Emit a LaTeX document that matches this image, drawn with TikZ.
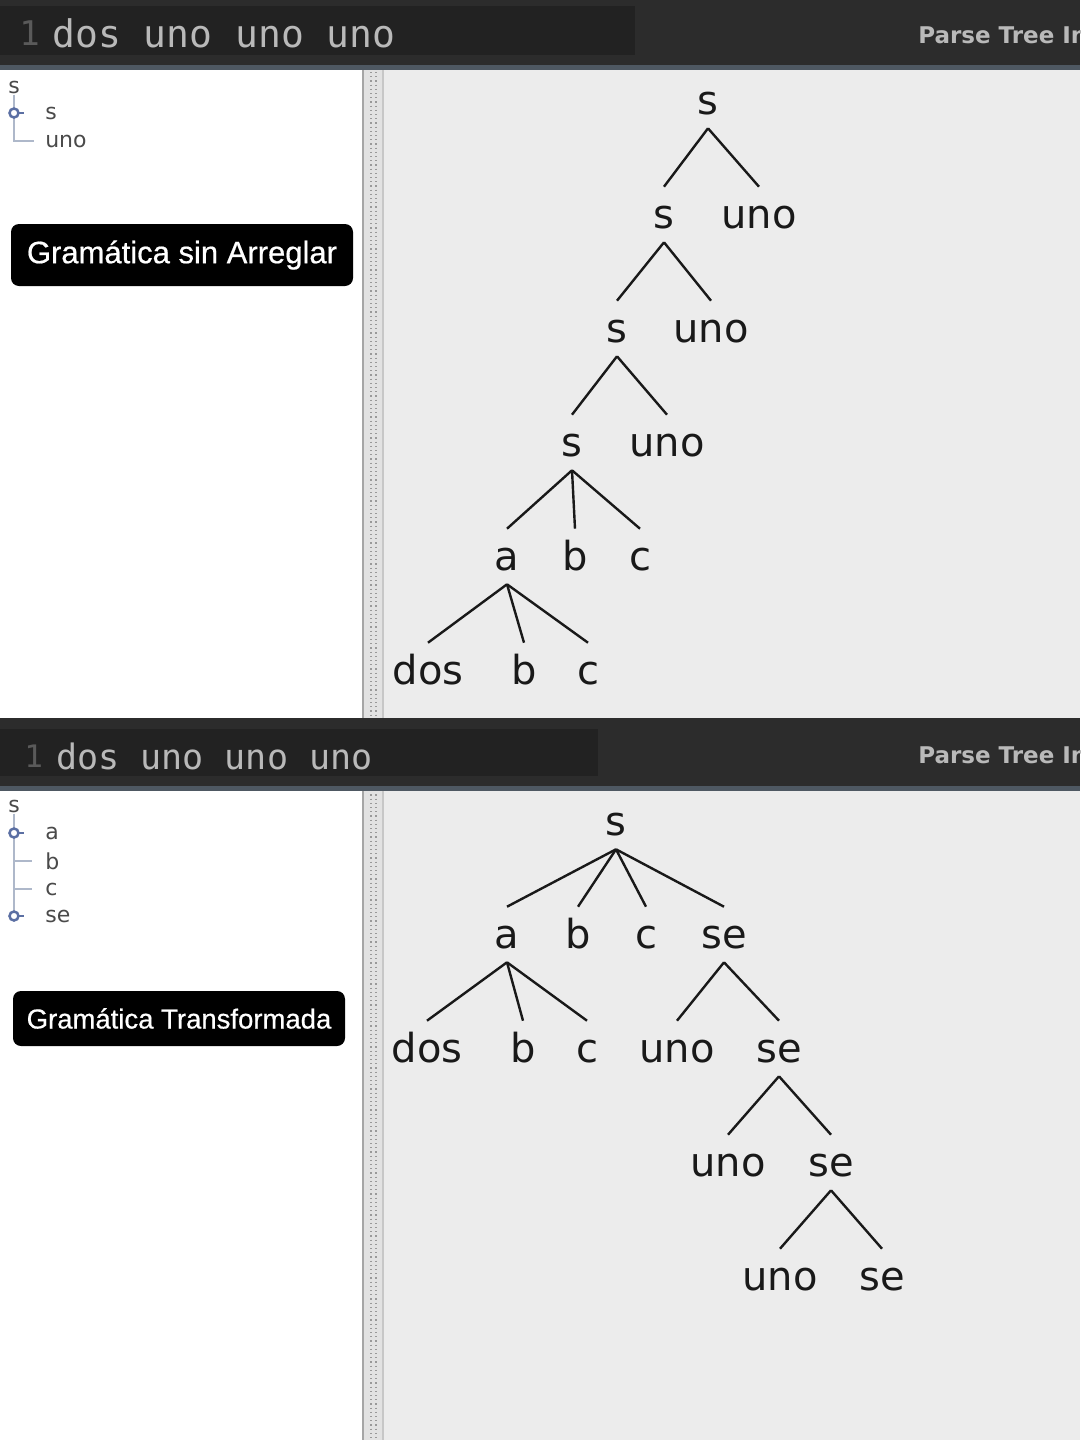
\documentclass[tikz,border=0pt]{standalone}
\usepackage{fontspec}
\usetikzlibrary{positioning}

\newfontfamily\treefont{DejaVu Sans}
\newfontfamily\codefont{DejaVu Sans Mono}
\newfontfamily\tagfont[FakeBold=0.6]{Liberation Sans}

\definecolor{barbg}{HTML}{2C2C2C}
\definecolor{editbg}{HTML}{222222}
\definecolor{barline}{HTML}{4E5862}
\definecolor{codetxt}{HTML}{B9B9B9}
\definecolor{linenum}{HTML}{5A5A5A}
\definecolor{panelbg}{HTML}{ECECEC}
\definecolor{splitbg}{HTML}{E2E2E2}
\definecolor{guide}{HTML}{AEB8CA}
\definecolor{knob}{HTML}{5B6FA3}
\definecolor{listtxt}{HTML}{4A4A4A}

\begin{document}
\begin{tikzpicture}[
    x = 1pt,
    y = -1pt,
    semithick,
    ]

    \tikzstyle{tok}=[
    font = \treefont\fontsize{40}{40}\selectfont,
    text = black!90,
    anchor = base,
    inner sep = 0pt,
    text height = 41.5pt,
    text depth = 13.5pt,
    ]
    \tikzstyle{branch}=[
    draw = black!90,
    line width = 2.4pt,
    ]
    \tikzstyle{item}=[
    font = \treefont\fontsize{22}{22}\selectfont,
    text = listtxt,
    inner sep = 1pt,
    ]
    \tikzstyle{tag}=[
    fill = black,
    rounded corners = 8pt,
    text = white,
    inner sep = 0pt,
    ]
    \tikzstyle{code}=[
    font = \codefont,
    text = codetxt,
    anchor = west,
    inner sep = 0pt,
    ]
    \tikzstyle{title}=[
    font = \treefont\bfseries\fontsize{23}{23}\selectfont,
    text = codetxt,
    anchor = west,
    inner sep = 0pt,
    ]

    \useasboundingbox (0,0) rectangle (1080,1440);
    \clip (0,0) rectangle (1080,1440);

    % panels
    \fill[white] (0,68) rectangle (362,1440);
    \fill[panelbg] (384,68) rectangle (1080,1440);
    \fill[splitbg] (362,68) rectangle (384,1440);
    \draw[black!35, line width=2pt] (363,68) -- (363,1440);
    \draw[black!22, line width=1.5pt] (383,68) -- (383,1440);
    \foreach \dx in {371,376}
    \draw[black!40, line width=1.2pt, dash pattern=on 1.2pt off 3pt] (\dx,72) -- (\dx,1440);

    % top bar
    \fill[barbg] (0,0) rectangle (1080,68);
    \fill[editbg] (0,6) rectangle (635,55);
    \fill[barline] (0,65) rectangle (1080,70);
    \node[code, text=linenum, font=\codefont\fontsize{34}{34}\selectfont] (num1) at (19,33) {1};
    \node[code, font=\codefont\fontsize{38}{38}\selectfont] (src1) at (52,33) {dos uno uno uno};
    \node[title] (pt1) at (918,35) {Parse Tree In};

    % second bar
    \fill[barbg] (0,718) rectangle (1080,790);
    \fill[editbg] (0,729) rectangle (598,776);
    \fill[barline] (0,786) rectangle (1080,791);
    \node[code, text=linenum, font=\codefont\fontsize{31}{31}\selectfont] (num2) at (24,756) {1};
    \node[code, font=\codefont\fontsize{35}{35}\selectfont] (src2) at (56,756) {dos uno uno uno};
    \node[title] (pt2) at (918,755) {Parse Tree In};

    % rule list, first grammar
    \node[item] (ls) at (14,87) {s};
    \node[item, anchor=west] (lss) at (44,113) {s};
    \node[item, anchor=west] (lsu) at (44,141) {uno};
    \draw[guide, line width=1.5pt] (ls.south) |- ([xshift=-10pt]lsu.west);
    \draw[knob, line width=2.5pt] (ls.south |- lss.west) -- ([xshift=-20pt]lss.west);
    \draw[knob, line width=2.5pt, fill=white] (ls.south |- lss.west) circle (4.5pt);

    % rule list, second grammar
    \node[item] (ms) at (14,806) {s};
    \node[item, anchor=west] (ma) at (44,833) {a};
    \node[item, anchor=west] (mb) at (44,861) {b};
    \node[item, anchor=west] (mc) at (44,889) {c};
    \node[item, anchor=west] (mse) at (44,916) {se};
    \draw[guide, line width=1.5pt] (ms.south) -- (ms.south |- mse.west);
    \foreach \n in {mb,mc}
    \draw[guide, line width=1.5pt] (ms.south |- \n.west) -- ([xshift=-12pt]\n.west);
    \foreach \n in {ma,mse} {
    \draw[knob, line width=2.5pt] (ms.south |- \n.west) -- ([xshift=-20pt]\n.west);
    \draw[knob, line width=2.5pt, fill=white] (ms.south |- \n.west) circle (4.5pt);
    }

    % captions
    \node[tag, minimum width=342pt, minimum height=62pt,
    font=\tagfont\fontsize{31}{31}\selectfont] (cap1) at (182,255) {Gramática sin Arreglar};
    \node[tag, minimum width=332pt, minimum height=55pt,
    font=\tagfont\fontsize{27.5}{27.5}\selectfont] (cap2) at (179,1018.5) {Gramática Transformada};

    % parse tree, first grammar
    \node[tok] (r1) at (708,114.5) {s};
    \node[tok] (s2) at (664,228.5) {s};
    \node[tok] (u2) at (759,228.5) {uno};
    \node[tok] (s3) at (617,342.5) {s};
    \node[tok] (u3) at (711,342.5) {uno};
    \node[tok] (s4) at (572,456.5) {s};
    \node[tok] (u4) at (667,456.5) {uno};
    \node[tok] (a5) at (507,570.5) {a};
    \node[tok] (b5) at (575,570.5) {b};
    \node[tok] (c5) at (640,570.5) {c};
    \node[tok] (d6) at (428,684.5) {dos};
    \node[tok] (b6) at (524,684.5) {b};
    \node[tok] (c6) at (588,684.5) {c};

    \path[branch] (r1.south) edge (s2.north) edge (u2.north);
    \path[branch] (s2.south) edge (s3.north) edge (u3.north);
    \path[branch] (s3.south) edge (s4.north) edge (u4.north);
    \path[branch] (s4.south) edge (a5.north) edge (b5.north) edge (c5.north);
    \path[branch] (a5.south) edge (d6.north) edge (b6.north) edge (c6.north);

    % parse tree, second grammar
    \node[tok] (t1) at (616,835.5) {s};
    \node[tok] (ta) at (507,948.5) {a};
    \node[tok] (tb) at (578,948.5) {b};
    \node[tok] (tc) at (646,948.5) {c};
    \node[tok] (te1) at (724,948.5) {se};
    \node[tok] (td) at (427,1062.5) {dos};
    \node[tok] (tb2) at (523,1062.5) {b};
    \node[tok] (tc2) at (587,1062.5) {c};
    \node[tok] (tu1) at (677,1062.5) {uno};
    \node[tok] (te2) at (779,1062.5) {se};
    \node[tok] (tu2) at (728,1176.5) {uno};
    \node[tok] (te3) at (831,1176.5) {se};
    \node[tok] (tu3) at (780,1290.5) {uno};
    \node[tok] (te4) at (882,1290.5) {se};

    \path[branch] (t1.south) edge (ta.north) edge (tb.north) edge (tc.north) edge (te1.north);
    \path[branch] (ta.south) edge (td.north) edge (tb2.north) edge (tc2.north);
    \path[branch] (te1.south) edge (tu1.north) edge (te2.north);
    \path[branch] (te2.south) edge (tu2.north) edge (te3.north);
    \path[branch] (te3.south) edge (tu3.north) edge (te4.north);
  \end{tikzpicture}
\end{document}
